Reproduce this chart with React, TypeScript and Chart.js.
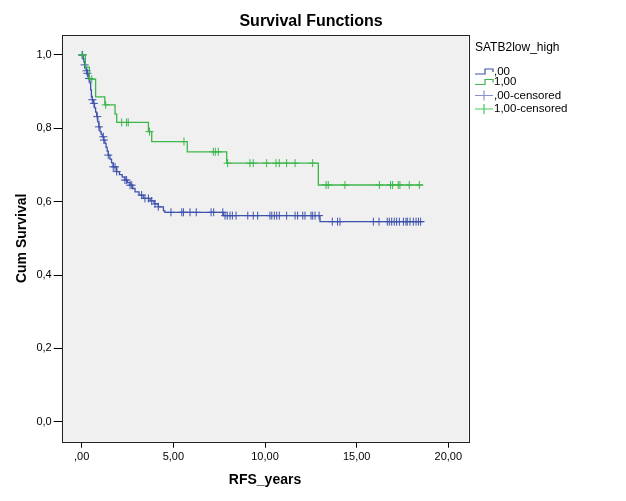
import React, { useEffect, useRef } from "react";
import { Chart, registerables } from "chart.js";

Chart.register(...registerables);

// ---- Data ----
// Group ",00" (blue) : event times and survival after each event
const blueTimes = [0, 0.08, 0.12, 0.16, 0.2, 0.24, 0.27, 0.31, 0.35, 0.4, 0.45, 0.49, 0.53, 0.58, 0.64, 0.7, 0.76, 0.82, 0.88, 0.94, 1.0, 1.06, 1.12, 1.2, 1.27, 1.33, 1.39, 1.45, 1.54, 1.63, 1.72, 1.91, 2.06, 2.21, 2.36, 2.5, 2.64, 2.78, 2.91, 3.13, 3.36, 3.73, 3.96, 4.18, 4.46, 4.54, 7.73, 13.0, 18.66];
const blueSurv = [1.0, 0.989, 0.981, 0.973, 0.967, 0.961, 0.957, 0.95, 0.944, 0.936, 0.923, 0.905, 0.886, 0.878, 0.868, 0.856, 0.844, 0.832, 0.818, 0.804, 0.791, 0.784, 0.777, 0.768, 0.759, 0.748, 0.738, 0.727, 0.716, 0.706, 0.695, 0.682, 0.674, 0.667, 0.659, 0.652, 0.645, 0.636, 0.627, 0.618, 0.609, 0.602, 0.594, 0.586, 0.575, 0.571, 0.562, 0.5455, 0.5455];
const blueCensored = [0.03, 0.05, 0.16, 0.27, 0.31, 0.4, 0.58, 0.67, 0.85, 0.94, 1.18, 1.21, 1.45, 1.72, 1.82, 1.91, 2.36, 2.45, 2.64, 2.73, 3.27, 3.45, 3.64, 3.82, 4.0, 4.18, 4.87, 5.46, 5.55, 5.91, 6.25, 7.06, 7.2, 7.7, 7.82, 7.94, 8.09, 8.22, 8.42, 9.06, 9.36, 9.6, 10.27, 10.37, 10.51, 10.64, 10.78, 11.18, 11.64, 11.78, 12.06, 12.18, 12.51, 12.6, 12.73, 12.95, 13.67, 13.96, 14.09, 15.91, 16.22, 16.67, 16.78, 16.91, 17.05, 17.18, 17.33, 17.55, 17.69, 17.76, 17.91, 18.09, 18.24, 18.37, 18.49];

// Group "1,00" (green)
const greenTimes = [0, 0.2, 0.42, 0.76, 1.26, 1.82, 1.91, 3.64, 3.82, 5.76, 7.91, 12.91, 18.6];
const greenSurv = [1.0, 0.967, 0.934, 0.886, 0.864, 0.839, 0.816, 0.791, 0.764, 0.736, 0.705, 0.6455, 0.6455];
const greenCensored = [0.03, 0.55, 1.31, 2.18, 2.45, 2.54, 3.7, 5.58, 7.18, 7.29, 7.45, 7.96, 9.18, 9.36, 10.09, 10.6, 10.78, 11.18, 11.64, 12.6, 13.33, 13.45, 14.36, 16.24, 16.85, 16.96, 17.27, 17.36, 17.87, 18.42];

const xTickValues = [0, 5, 10, 15, 20];
const xTickLabels = [",00", "5,00", "10,00", "15,00", "20,00"];
const yTickValues = [0, 0.2, 0.4, 0.6, 0.8, 1.0];
const yTickLabels = ["0,0", "0,2", "0,4", "0,6", "0,8", "1,0"];

const chartTitle = "Survival Functions";
const xTitle = "RFS_years";
const yTitle = "Cum Survival";
const legendTitle = "SATB2low_high";
const legendLabels = [",00", "1,00", ",00-censored", "1,00-censored"];

const BLUE = "#3e52ad";
const GREEN = "#3cb64a";
const BLUE_LIGHT = "#8793cf";
const GREEN_LIGHT = "#4cc95a";
const FONT = "'Liberation Sans', Arial, Helvetica, sans-serif";

function survAt(times: number[], surv: number[], t: number) {
  let s = surv[0];
  for (let i = 0; i < times.length; i++) {
    if (times[i] <= t) s = surv[i];
  }
  return s;
}

const decorPlugin = {
  id: "decor",
  beforeDraw(chart: any) {
    const { ctx, chartArea } = chart;
    const { left, top, right, bottom } = chartArea;
    ctx.save();
    ctx.fillStyle = "#ffffff";
    ctx.fillRect(0, 0, chart.width, chart.height);
    ctx.fillStyle = "#f0f0f0";
    ctx.fillRect(left, top, right - left, bottom - top);
    ctx.restore();
  },
  afterDraw(chart: any) {
    const { ctx, chartArea } = chart;
    const { left, top, right, bottom } = chartArea;
    ctx.save();
    // plot frame
    ctx.strokeStyle = "#222222";
    ctx.lineWidth = 1;
    ctx.strokeRect(Math.round(left) + 0.5, Math.round(top) + 0.5, Math.round(right - left), Math.round(bottom - top));
    // title
    ctx.fillStyle = "#000";
    ctx.font = `bold 16px ${FONT}`;
    ctx.textAlign = "center";
    ctx.textBaseline = "middle";
    ctx.fillText(chartTitle, 311, 22);
    // legend
    const lx = 475;
    ctx.textAlign = "left";
    ctx.font = `12px ${FONT}`;
    ctx.fillText(legendTitle, lx, 48);
    ctx.font = `11.5px ${FONT}`;
    const rows = [71.5, 82, 95.5, 109];
    const colors = [BLUE, GREEN, BLUE_LIGHT, GREEN_LIGHT];
    for (let i = 0; i < 4; i++) {
      const cy = rows[i];
      ctx.strokeStyle = colors[i];
      ctx.lineWidth = 1.2;
      ctx.beginPath();
      if (i < 2) {
        ctx.moveTo(lx, cy + 2.5);
        ctx.lineTo(lx + 10, cy + 2.5);
        ctx.lineTo(lx + 10, cy - 2.5);
        ctx.lineTo(lx + 18, cy - 2.5);
        ctx.lineTo(lx + 18, cy + 0.5);
      } else {
        ctx.moveTo(lx, cy);
        ctx.lineTo(lx + 18, cy);
        ctx.moveTo(lx + 9, cy - 5);
        ctx.lineTo(lx + 9, cy + 5);
      }
      ctx.stroke();
      ctx.fillStyle = "#000";
      ctx.fillText(legendLabels[i], lx + 19, cy);
    }
    ctx.restore();
  },
};

export default function App() {
  const ref = useRef<HTMLCanvasElement | null>(null);

  useEffect(() => {
    document.body.style.margin = "0";
    const canvas = ref.current;
    if (!canvas) return;
    Chart.defaults.font.family = FONT;

    const blueLine = blueTimes.map((t, i) => ({ x: t, y: blueSurv[i] }));
    const greenLine = greenTimes.map((t, i) => ({ x: t, y: greenSurv[i] }));
    const blueCens = blueCensored.map((t) => ({ x: t, y: survAt(blueTimes, blueSurv, t) }));
    const greenCens = greenCensored.map((t) => ({ x: t, y: survAt(greenTimes, greenSurv, t) }));

    const tickFont = { family: FONT, size: 11 };
    const titleFont = { family: FONT, size: 14, weight: "bold" as const };

    const chart = new Chart(canvas, {
      type: "line",
      data: {
        datasets: [
          {
            label: legendLabels[1],
            data: greenLine,
            borderColor: GREEN,
            borderWidth: 1.3,
            stepped: "before",
            pointRadius: 0,
            fill: false,
          },
          {
            label: legendLabels[3],
            data: greenCens,
            showLine: false,
            pointStyle: "cross",
            pointRadius: 4,
            pointBorderWidth: 1,
            borderColor: GREEN,
            backgroundColor: GREEN,
          },
          {
            label: legendLabels[0],
            data: blueLine,
            borderColor: BLUE,
            borderWidth: 1.3,
            stepped: "before",
            pointRadius: 0,
            fill: false,
          },
          {
            label: legendLabels[2],
            data: blueCens,
            showLine: false,
            pointStyle: "cross",
            pointRadius: 4,
            pointBorderWidth: 1,
            borderColor: BLUE,
            backgroundColor: BLUE,
          },
        ],
      },
      options: {
        responsive: false,
        animation: false,
        events: [],
        layout: { padding: { left: 10, right: 157.7, top: 35, bottom: 8.6 } },
        plugins: {
          legend: { display: false },
          title: { display: false },
          tooltip: { enabled: false },
        },
        scales: {
          x: {
            type: "linear",
            min: -1.09,
            max: 21.09,
            afterBuildTicks: (scale: any) => {
              scale.ticks = xTickValues.map((v) => ({ value: v }));
            },
            afterFit: (scale: any) => {
              scale.height = 50.7;
            },
            ticks: {
              callback: (v: any) => {
                const i = xTickValues.indexOf(Number(v));
                return i >= 0 ? xTickLabels[i] : "";
              },
              font: tickFont,
              color: "#000",
              padding: 3,
              maxRotation: 0,
              autoSkip: false,
            },
            grid: { display: true, drawOnChartArea: false, drawTicks: true, tickLength: 6, color: "#000", lineWidth: 1 },
            border: { display: false },
            title: { display: true, text: xTitle, font: titleFont, color: "#000", padding: { top: 4, bottom: 4 } },
          },
          y: {
            type: "linear",
            min: -0.0545,
            max: 1.0545,
            afterBuildTicks: (scale: any) => {
              scale.ticks = yTickValues.map((v) => ({ value: v }));
            },
            afterFit: (scale: any) => {
              scale.width = 51.7;
            },
            ticks: {
              callback: (v: any) => {
                const i = yTickValues.findIndex((t) => Math.abs(t - Number(v)) < 1e-6);
                return i >= 0 ? yTickLabels[i] : "";
              },
              font: tickFont,
              color: "#000",
              padding: 2,
              autoSkip: false,
            },
            grid: { display: true, drawOnChartArea: false, drawTicks: true, tickLength: 8, color: "#000", lineWidth: 1 },
            border: { display: false },
            title: { display: true, text: yTitle, font: titleFont, color: "#000", padding: { top: 4, bottom: 4 } },
          },
        },
      },
      plugins: [decorPlugin],
    });

    return () => chart.destroy();
  }, []);

  return (
    <div style={{ position: "absolute", left: 0, top: 0, width: 626, height: 501 }}>
      <canvas ref={ref} width={626} height={501} style={{ display: "block" }} />
    </div>
  );
}
